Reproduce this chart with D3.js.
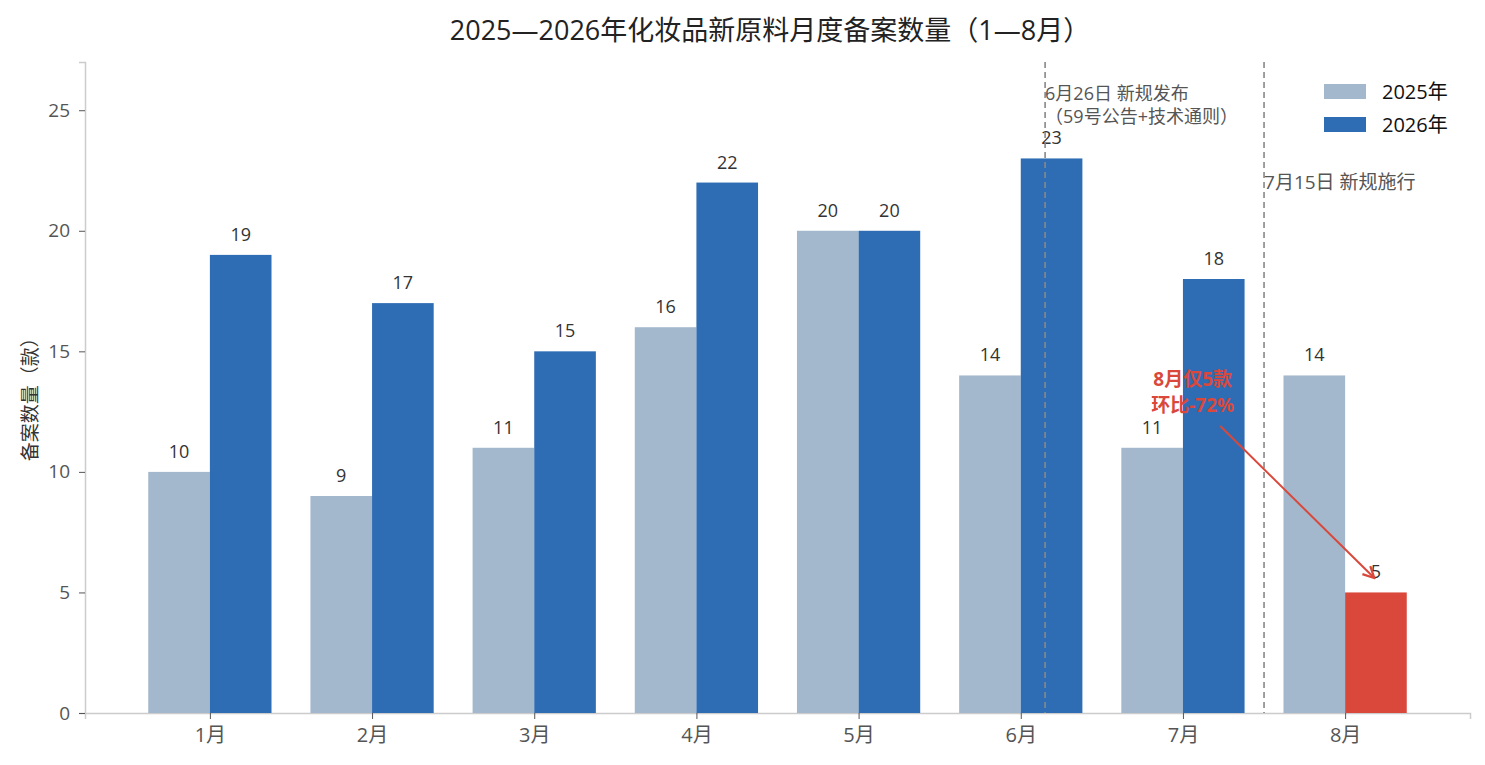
<!DOCTYPE html>
<html>
<head>
<meta charset="utf-8">
<script src="https://cdn.jsdelivr.net/npm/d3@7"></script>
<style>
  body { margin: 0; background: #fff; }
  svg text { font-family: "Open Sans", "Noto Sans CJK SC", sans-serif; }
</style>
</head>
<body>
<div id="chart"></div>
<script>
// data
var months = ["1月", "2月", "3月", "4月", "5月", "6月", "7月", "8月"];
var values2025 = [10, 9, 11, 16, 20, 14, 11, 14];
var values2026 = [19, 17, 15, 22, 20, 23, 18, 5];
var seriesNames = ["2025年", "2026年"];
var yTicks = [0, 5, 10, 15, 20, 25];
var eventPos = [5.15, 6.5];
var eventLabels = [["6月26日 新规发布", "（59号公告+技术通则）"], ["7月15日 新规施行"]];
var calloutLines = ["8月仅5款", "环比-72%"];

var width = 1485, height = 765;
var margin = {top: 62, right: 15, bottom: 52, left: 85};
var barW = 0.38;

var colors = ["#a3b8cc", "#2e6db4"];
var hiColor = "#d9483b";

var svg = d3.select("#chart").append("svg")
  .attr("width", width)
  .attr("height", height);

var x = d3.scaleLinear()
  .domain([-0.77, 7.77])
  .range([margin.left, width - margin.right]);

var y = d3.scaleLinear()
  .domain([0, 27])
  .range([height - margin.bottom, margin.top]);

// title
svg.append("text")
  .attr("x", 770).attr("y", 40)
  .attr("text-anchor", "middle")
  .attr("font-size", 27)
  .attr("fill", "#222")
  .text("2025—2026年化妆品新原料月度备案数量（1—8月）");

// axes
var xAxis = svg.append("g")
  .attr("transform", "translate(0," + y(0) + ")")
  .call(d3.axisBottom(x).tickValues(d3.range(months.length)).tickFormat(function(d) { return months[d]; }).tickSizeOuter(0).tickSize(6).tickPadding(9));

var yAxis = svg.append("g")
  .attr("transform", "translate(" + margin.left + ",0)")
  .call(d3.axisLeft(y).tickValues(yTicks).tickSizeOuter(0).tickSize(6).tickPadding(9));

[xAxis, yAxis].forEach(function(a) {
  a.select(".domain").attr("stroke", "#ccc").attr("stroke-width", 1.5);
  a.selectAll(".tick line").attr("stroke", "#555");
  a.selectAll(".tick text").attr("fill", "#555").attr("font-size", 19);
});
xAxis.selectAll(".tick text").attr("font-size", 20);

svg.append("text")
  .attr("transform", "translate(37," + y(13.2) + ") rotate(-90)")
  .attr("text-anchor", "middle")
  .attr("font-size", 19)
  .attr("fill", "#333")
  .text("备案数量（款）");

// bars
var g = svg.append("g");

g.selectAll(".b25")
  .data(values2025)
  .enter().append("rect")
  .attr("x", function(d, i) { return x(i - barW); })
  .attr("y", function(d) { return y(d); })
  .attr("width", x(barW) - x(0))
  .attr("height", function(d) { return y(0) - y(d); })
  .attr("fill", colors[0]);

g.selectAll(".b26")
  .data(values2026)
  .enter().append("rect")
  .attr("x", function(d, i) { return x(i); })
  .attr("y", function(d) { return y(d); })
  .attr("width", x(barW) - x(0))
  .attr("height", function(d) { return y(0) - y(d); })
  .attr("fill", function(d, i) { return i == months.length - 1 ? hiColor : colors[1]; });

// value labels
function addLabels(vals, off) {
  g.selectAll(null)
    .data(vals)
    .enter().append("text")
    .attr("x", function(d, i) { return x(i + off); })
    .attr("y", function(d) { return y(d) - 14; })
    .attr("text-anchor", "middle")
    .attr("font-size", 18)
    .attr("fill", "#333")
    .text(function(d) { return d; });
}
addLabels(values2025, -barW / 2);
addLabels(values2026, barW / 2);

// event lines
eventPos.forEach(function(p, k) {
  svg.append("line")
    .attr("x1", x(p)).attr("x2", x(p))
    .attr("y1", margin.top).attr("y2", y(0))
    .attr("stroke", "#888")
    .attr("stroke-width", 1.6)
    .attr("stroke-dasharray", "6,4");
});
var ev1 = svg.append("text").attr("font-size", 18).attr("fill", "#555");
ev1.append("tspan").attr("x", x(eventPos[0])).attr("y", 100).text(eventLabels[0][0]);
ev1.append("tspan").attr("x", x(eventPos[0])).attr("y", 123).text(eventLabels[0][1]);
svg.append("text").attr("font-size", 19).attr("fill", "#555")
  .attr("x", x(eventPos[1])).attr("y", 189)
  .text(eventLabels[1][0]);

// callout
svg.append("defs").append("marker")
  .attr("id", "arr")
  .attr("viewBox", "0 0 10 10")
  .attr("refX", 9).attr("refY", 5)
  .attr("markerWidth", 7).attr("markerHeight", 7)
  .attr("orient", "auto")
  .append("path")
  .attr("d", "M1,1 L9,5 L1,9")
  .attr("fill", "none")
  .attr("stroke", hiColor)
  .attr("stroke-width", 1.6);

svg.append("line")
  .attr("x1", x(6.23)).attr("y1", y(11.9))
  .attr("x2", x(7.18)).attr("y2", y(5.6))
  .attr("stroke", hiColor)
  .attr("stroke-width", 2)
  .attr("marker-end", "url(#arr)");

var co = svg.append("text")
  .attr("text-anchor", "middle")
  .attr("font-size", 19)
  .attr("font-weight", "bold")
  .attr("fill", hiColor);
co.append("tspan").attr("x", x(6.06)).attr("y", 386).text(calloutLines[0]);
co.append("tspan").attr("x", x(6.06)).attr("y", 412).text(calloutLines[1]);

// legend
var leg = svg.append("g").attr("transform", "translate(1324,84)");
seriesNames.forEach(function(s, i) {
  leg.append("rect")
    .attr("x", 0).attr("y", i * 33)
    .attr("width", 42).attr("height", 15)
    .attr("fill", colors[i]);
  leg.append("text")
    .attr("x", 58).attr("y", i * 33 + 15)
    .attr("font-size", 20)
    .attr("fill", "#111")
    .text(s);
});
</script>
</body>
</html>
